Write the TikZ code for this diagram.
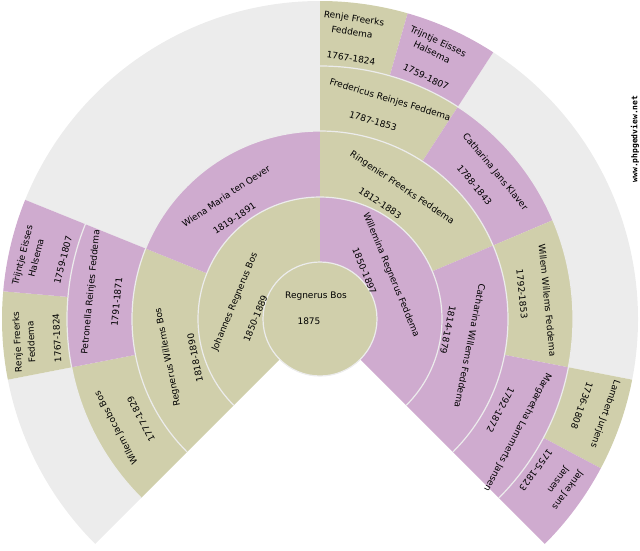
\documentclass[tikz,border=0pt]{standalone}
\usepackage{fontspec}
\setmainfont{DejaVu Sans}
\newfontfamily\markfont{DejaVu Sans Mono Bold}
\definecolor{male}{RGB}{208,207,171}
\definecolor{female}{RGB}{207,171,207}
\definecolor{blank}{RGB}{236,236,236}
\newcommand{\sector}[5]{\fill[#1] (#2:#4pt) arc[start angle=#2,end angle=#3,radius=#4pt] -- (#3:#5pt) arc[start angle=#3,end angle=#2,radius=#5pt] -- cycle;}

\begin{document}
\begin{tikzpicture}[
	x=1pt, y=1pt,
	lbl/.style={font=\fontsize{9}{9}\selectfont, inner sep=0pt, text=black},
	rimline/.style={draw=blank, line width=1.2pt}
	]
	\useasboundingbox (0,-550) rectangle (640,0);

	\begin{scope}[shift={(320,-319)}]
	\sector{blank}{158}{90}{188}{318}
	\sector{blank}{225}{191}{253}{318}
	\sector{blank}{57}{-11}{253}{318}

	\sector{male}{225}{90}{57}{122}
	\sector{female}{90}{-45}{57}{122}

	\sector{male}{225}{158}{122}{188}
	\sector{female}{158}{90}{122}{188}
	\sector{male}{90}{23}{122}{188}
	\sector{female}{23}{-45}{122}{188}

	\sector{male}{225}{191}{188}{253}
	\sector{female}{191}{158}{188}{253}
	\sector{male}{90}{57}{188}{253}
	\sector{female}{57}{23}{188}{253}
	\sector{male}{23}{-11}{188}{253}
	\sector{female}{-11}{-45}{188}{253}

	\sector{male}{191}{175}{253}{318}
	\sector{female}{175}{158}{253}{318}
	\sector{male}{90}{74}{253}{318}
	\sector{female}{74}{57}{253}{318}
	\sector{male}{-11}{-28}{253}{318}
	\sector{female}{-28}{-45}{253}{318}

	\foreach \r in {122,188,253}
		\draw[rimline] (225:\r pt) arc[start angle=225,end angle=-45,radius=\r pt];
	\fill[male, rimline] (0,0) circle (57pt);
	\end{scope}

	\node[lbl] (root) at (316,-296) {Regnerus Bos};
	\node[lbl] (rootdate) at (309,-321) {1875};

	\node[lbl, rotate=67.5] (johannes) at (235,-302) {Johannes Regnerus Bos};
	\node[lbl, rotate=67.5] (johannesdate) at (255.5,-318.5) {1850-1889};
	\node[lbl, rotate=-67.5] (willemina) at (391,-275) {Willemina Regnerus Feddema};
	\node[lbl, rotate=-67.5] (wilheminadate) at (364.5,-271) {1850-1897};

	\node[lbl, rotate=101.25] (regnerus) at (168,-357) {Regnerus Willems Bos};
	\node[lbl, rotate=101.25] (regnerusdate) at (195,-358) {1818-1890};
	\node[lbl, rotate=33.75] (wiena) at (226,-196) {Wiena Maria ten Oever};
	\node[lbl, rotate=33.75] (wienadate) at (234.5,-218.5) {1819-1891};
	\node[lbl, rotate=-33.75] (ringenier) at (402,-188) {Ringenier Freerks Feddema};
	\node[lbl, rotate=-33.75] (ringenierdate) at (380,-203) {1812-1883};
	\node[lbl, rotate=-101.25] (catharinaw) at (470,-346) {Catharina Willems Feddema};
	\node[lbl, rotate=-101.25] (catharinawdate) at (448,-330) {1814-1879};

	\node[lbl, rotate=118.125] (willemj) at (116.5,-428) {Willem Jacobs Bos};
	\node[lbl, rotate=118.125] (willemjdate) at (141,-419) {1777-1829};
	\node[lbl, rotate=84.375] (petronella) at (91,-292) {Petronella Reinjes Feddema};
	\node[lbl, rotate=84.375] (petronelladate) at (116.7,-302) {1791-1871};
	\node[lbl, rotate=-16.875] (fredericus) at (390,-100) {Fredericus Reinjes Feddema};
	\node[lbl, rotate=-16.875] (fredericusdate) at (373,-121) {1787-1853};
	\node[lbl, rotate=-50.625] (catharinaj) at (495,-172) {Catharina Jans Klaver};
	\node[lbl, rotate=-50.625] (catharinajdate) at (474.5,-185) {1788-1843};
	\node[lbl, rotate=-84.375] (willemw) at (547.5,-300) {Willem Willems Feddema};
	\node[lbl, rotate=-84.375] (willemwdate) at (522,-294) {1792-1853};
	\node[lbl, rotate=-118.125] (margaretha) at (517.5,-432) {Margaretha Lammerts Jansen};
	\node[lbl, rotate=-118.125] (margarethadate) at (500.5,-410) {1792-1872};

	\node[lbl, rotate=92.8] (renjel) at (18,-342) {Renje Freerks};
	\node[lbl, rotate=92.8] (renjelb) at (31,-342) {Feddema};
	\node[lbl, rotate=92.8] (renjeldate) at (57,-338) {1767-1824};
	\node[lbl, rotate=75.9] (trijntjel) at (23,-255) {Trijntje Eisses};
	\node[lbl, rotate=75.9] (trijntjelb) at (36,-258) {Halsema};
	\node[lbl, rotate=75.9] (trijntjeldate) at (63,-260) {1759-1807};
	\node[lbl, rotate=-8.44] (renjet) at (354,-19) {Renje Freerks};
	\node[lbl, rotate=-8.44] (renjetb) at (352,-32) {Feddema};
	\node[lbl, rotate=-8.44] (renjetdate) at (351,-58) {1767-1824};
	\node[lbl, rotate=-25.31] (trijntjet) at (438,-42) {Trijntje Eisses};
	\node[lbl, rotate=-25.31] (trijntjetb) at (432,-52) {Halsema};
	\node[lbl, rotate=-25.31] (trijntjetdate) at (426,-77) {1759-1807};
	\node[lbl, rotate=-109.69] (lambert) at (605,-414) {Lambert Jurjens};
	\node[lbl, rotate=-109.69] (lambertdate) at (582,-405.5) {1736-1808};
	\node[lbl, rotate=-126.56] (janke) at (567.5,-490) {Janke Jans};
	\node[lbl, rotate=-126.56] (jankeb) at (558,-479.5) {Jansen};
	\node[lbl, rotate=-126.56] (jankedate) at (536,-470) {1755-1823};

	\node[font=\markfont\fontsize{8}{8}\selectfont, inner sep=0pt, rotate=90] (site) at (635,-139) {www.phpgedview.net};
\end{tikzpicture}
\end{document}
